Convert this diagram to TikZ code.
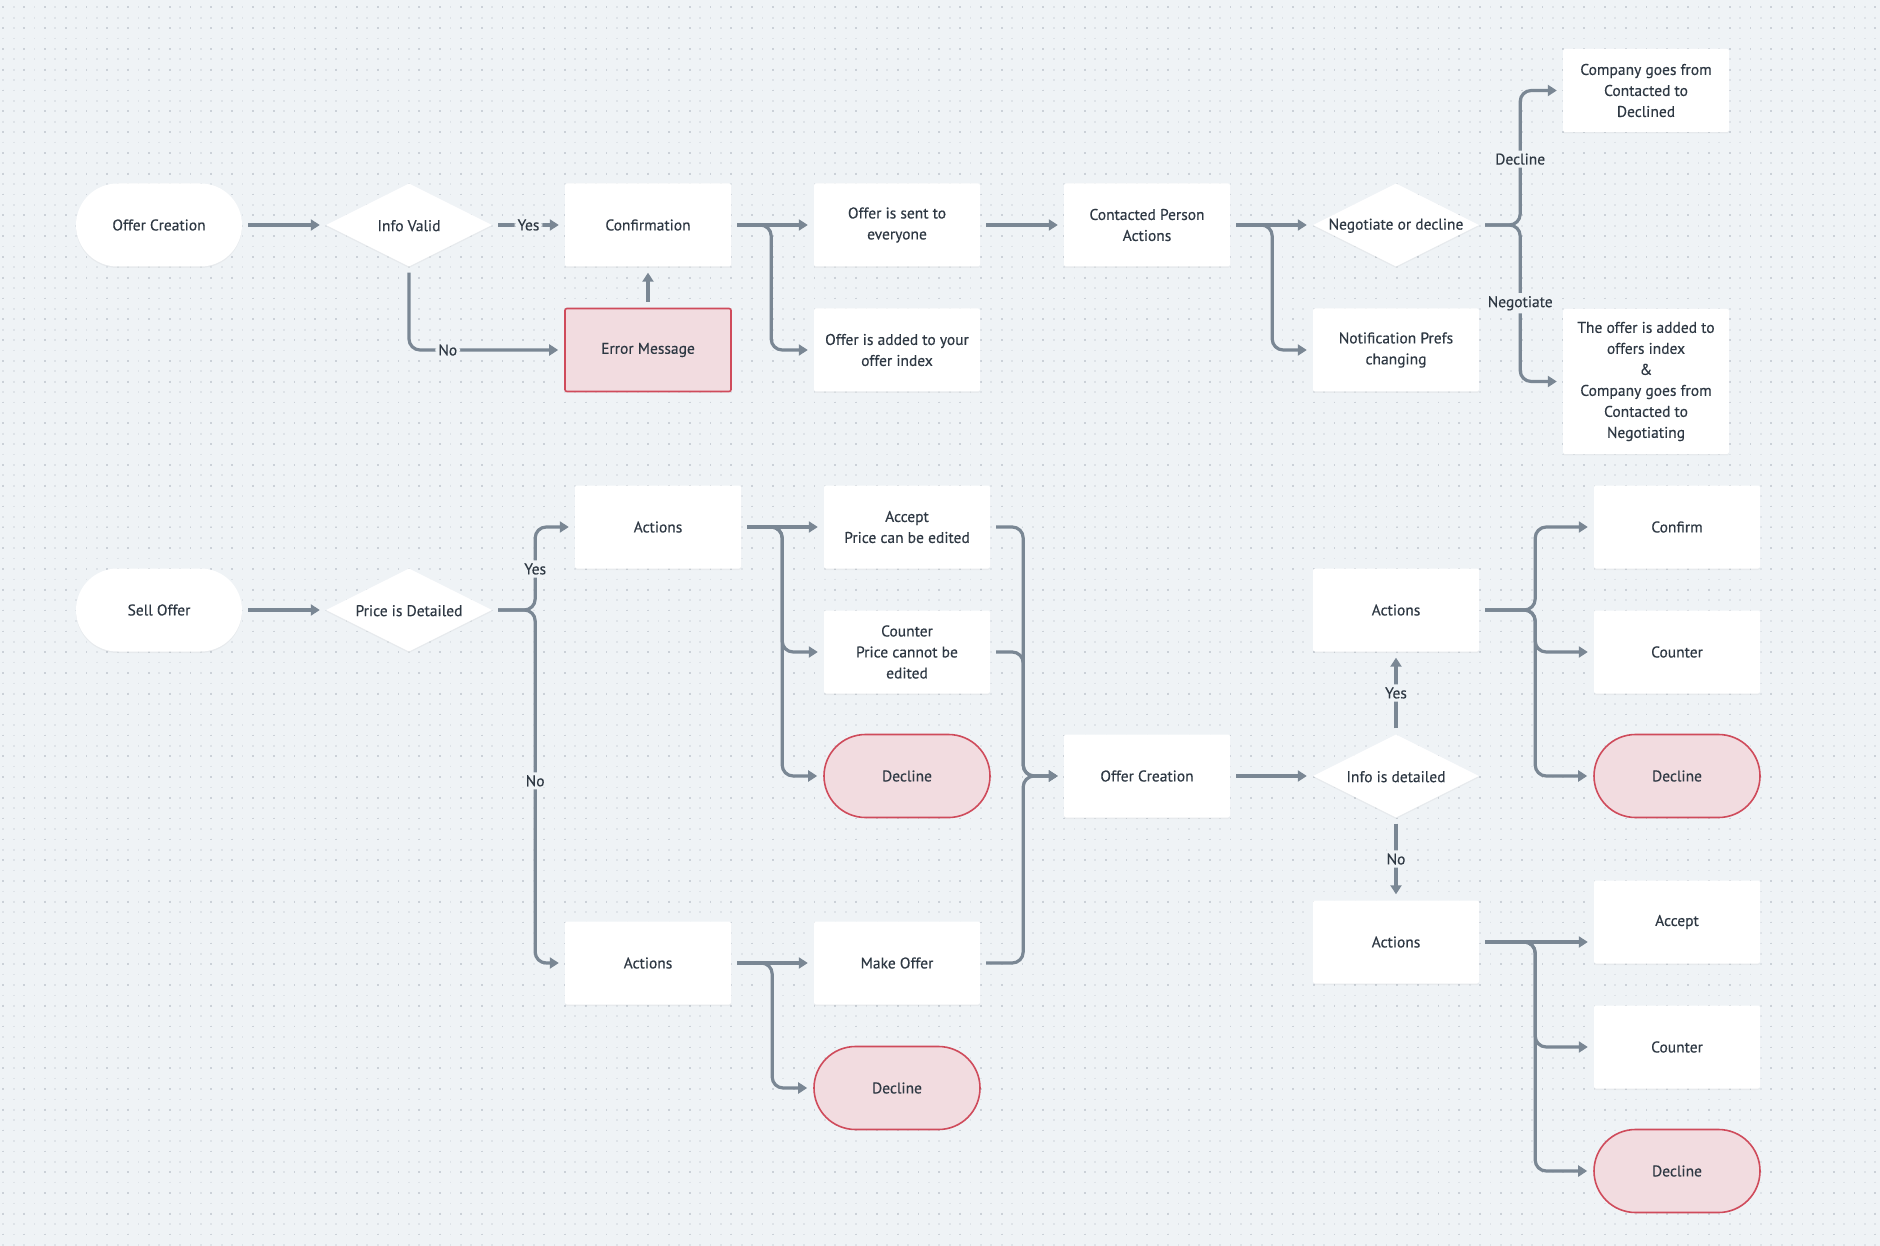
\documentclass[tikz,border=0pt]{standalone}
\usepackage{fontspec}
\setmainfont{PT Sans}[FakeBold=0.35]
\usetikzlibrary{arrows.meta,shapes.geometric,shadows}
\definecolor{bgc}{HTML}{EFF3F6}
\definecolor{dotl}{HTML}{DEE3E8}
\definecolor{dotd}{HTML}{CBD1D8}
\definecolor{linec}{HTML}{7A8794}
\definecolor{txtc}{HTML}{2E3843}
\definecolor{pinkf}{HTML}{F2DCE0}
\definecolor{redb}{HTML}{CF4B5B}
\begin{document}
\begin{tikzpicture}[x=1pt,y=-1pt,
  every node/.style={font=\fontsize{15.5}{21}\selectfont, text=txtc, align=center},
  shad/.style={drop shadow={shadow xshift=0pt, shadow yshift=-1.5pt, opacity=0.07}},
  box/.style={rectangle, fill=white, rounded corners=2pt, minimum width=166pt, minimum height=83pt, inner sep=0pt, shad},
  stad/.style={rectangle, fill=white, rounded corners=41.5pt, minimum width=166pt, minimum height=83pt, inner sep=0pt, shad},
  pinkstad/.style={rectangle, fill=pinkf, draw=redb, line width=1.6pt, rounded corners=41.5pt, minimum width=166pt, minimum height=83pt, inner sep=0pt},
  errbox/.style={rectangle, fill=pinkf, draw=redb, line width=1.6pt, rounded corners=2pt, minimum width=166pt, minimum height=83pt, inner sep=0pt},
  dia/.style={diamond, fill=white, minimum width=166pt, minimum height=83pt, inner sep=0pt, shad},
  dlbl/.style={label={[yshift=-0.7pt]center:#1}},
  conn/.style={draw=linec, line width=3.2pt, rounded corners=11pt, -{Triangle[length=9pt,width=11pt]}, shorten <=6pt, shorten >=6pt},
  lbl/.style={fill=bgc, inner sep=3pt}
]
\useasboundingbox (0,0) rectangle (1880,1246);
\fill[bgc] (0,0) rectangle (1880,1246);
\foreach \i in {0,...,180}{
  \draw[dotl, line width=1.7pt, dash pattern=on 1.7pt off 8.7pt] (3.3+\i*10.4, 6.5) -- (3.3+\i*10.4, 1246);
}
\foreach \i in {0,...,90}{
  \draw[dotd, line width=1.7pt, dash pattern=on 1.7pt off 19.1pt] (3.3+\i*20.8, 6.5) -- (3.3+\i*20.8, 1246);
}

% ---------- top flow ----------
\node[stad] (oc) at (159,225) {Offer Creation};
\node[dia, dlbl={Info Valid}] (iv) at (409,225) {};
\node[box] (conf) at (648,225) {Confirmation};
\node[errbox] (err) at (648,350) {Error Message};
\node[box] (off) at (897,225) {Offer is sent to\\everyone};
\node[box] (add) at (897,350) {Offer is added to your\\offer index};
\node[box] (cp) at (1147,225) {Contacted Person\\Actions};
\node[dia, dlbl={Negotiate or decline}] (nd) at (1396,225) {};
\node[box] (np) at (1396,350) {Notification Prefs\\changing};
\node[box] (cd) at (1646,90.5) {Company goes from\\Contacted to\\Declined};
\node[box, minimum height=145pt] (oa) at (1646,381.5) {The offer is added to\\offers index\\\&\\Company goes from\\Contacted to\\Negotiating};

% ---------- bottom flow ----------
\node[stad] (so) at (159,610) {Sell Offer};
\node[dia, dlbl={Price is Detailed}] (pd) at (409,610) {};
\node[box] (at1) at (658,527) {Actions};
\node[box] (acc) at (907,527) {Accept\\Price can be edited};
\node[box] (cnt) at (907,652) {Counter\\Price cannot be\\edited};
\node[pinkstad] (dec1) at (907,776) {Decline};
\node[box] (ab) at (648,963) {Actions};
\node[box] (mo) at (897,963) {Make Offer};
\node[pinkstad] (dec2) at (897,1088) {Decline};
\node[box] (ocm) at (1147,776) {Offer Creation};
\node[dia, dlbl={Info is detailed}] (id) at (1396,776) {};
\node[box] (ar1) at (1396,610) {Actions};
\node[box] (ar2) at (1396,942) {Actions};
\node[box] (cf) at (1677,527) {Confirm};
\node[box] (cn1) at (1677,652) {Counter};
\node[pinkstad] (dc1) at (1677,776) {Decline};
\node[box] (ac2) at (1677,922) {Accept};
\node[box] (cn2) at (1677,1047) {Counter};
\node[pinkstad] (dc2) at (1677,1171) {Decline};

% ---------- connectors: top ----------
\draw[conn] (oc.east) -- (iv.west);
\draw[conn] (iv.east) -- node[lbl]{Yes} (conf.west);
\draw[conn] (iv.south) |- node[lbl,pos=0.625]{No} (err.west);
\draw[conn] (err.north) -- (conf.south);
\draw[conn] (conf.east) -- (off.west);
\draw[conn] (conf.east) -- ++(40,0) |- (add.west);
\draw[conn] (off.east) -- (cp.west);
\draw[conn] (cp.east) -- (nd.west);
\draw[conn] (cp.east) -- ++(42,0) |- (np.west);
\draw[conn] (nd.east) -- ++(41,0) |- node[lbl,pos=0.245]{Decline} (cd.west);
\draw[conn] (nd.east) -- ++(41,0) |- node[lbl,pos=0.25]{Negotiate} (oa.west);

% ---------- connectors: bottom ----------
\draw[conn] (so.east) -- (pd.west);
\draw[conn] (pd.east) -- ++(43,0) |- node[lbl,pos=0.247]{Yes} (at1.west);
\draw[conn] (pd.east) -- ++(43,0) |- node[lbl,pos=0.242]{No} (ab.west);
\draw[conn] (at1.east) -- (acc.west);
\draw[conn] (at1.east) -- ++(41,0) |- (cnt.west);
\draw[conn] (at1.east) -- ++(41,0) |- (dec1.west);
\draw[conn] (ab.east) -- (mo.west);
\draw[conn] (ab.east) -- ++(41,0) |- (dec2.west);
\draw[conn] (acc.east) -- ++(33,0) |- (ocm.west);
\draw[conn] (cnt.east) -- ++(33,0) |- (ocm.west);
\draw[conn] (mo.east) -- ++(43,0) |- (ocm.west);
\draw[conn] (ocm.east) -- (id.west);
\draw[conn] (id.north) -- node[lbl]{Yes} (ar1.south);
\draw[conn] (id.south) -- node[lbl]{No} (ar2.north);
\draw[conn] (ar1.east) -- ++(56,0) |- (cf.west);
\draw[conn] (ar1.east) -- ++(56,0) |- (cn1.west);
\draw[conn] (ar1.east) -- ++(56,0) |- (dc1.west);
\draw[conn] (ar2.east) -- (ar2.east -| ac2.west);
\draw[conn] (ar2.east) -- ++(56,0) |- (cn2.west);
\draw[conn] (ar2.east) -- ++(56,0) |- (dc2.west);
\end{tikzpicture}
\end{document}
